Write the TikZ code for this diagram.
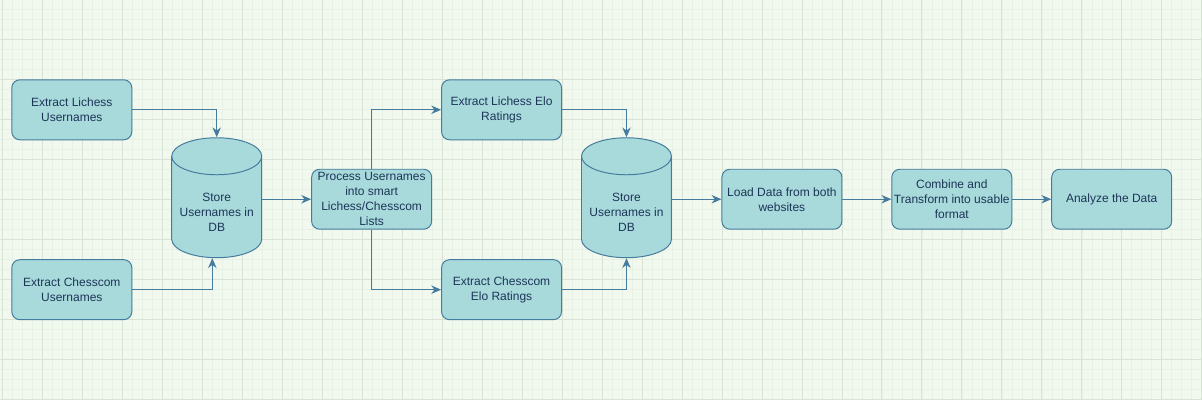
\documentclass[tikz,border=0pt]{standalone}
\usepackage{fontspec}
\setmainfont{Liberation Sans}
\usetikzlibrary{shapes.geometric, arrows.meta}
\definecolor{boxfill}{HTML}{A8DADC}
\definecolor{boxline}{HTML}{457B9D}
\definecolor{boxtext}{HTML}{1D3557}
\definecolor{paper}{HTML}{F1F8EE}
\definecolor{minorgrid}{HTML}{E8F1E5}
\definecolor{majorgrid}{HTML}{D8E3D6}
% cylinder text sits a little below the middle
\newcommand{\dbtext}[1]{\raisebox{0pt}[\dimexpr\height+0.33cm\relax][\depth]{\begin{tabular}{@{}c@{}}#1\end{tabular}}}
\begin{document}
\begin{tikzpicture}[x=0.025cm, y=-0.025cm,
    box/.style={rectangle, rounded corners=0.2cm, draw=boxline, fill=boxfill, line width=0.7pt,
        minimum width=3cm, minimum height=1.5cm, inner sep=0pt, align=center, text=boxtext,
        font=\fontsize{8.54pt}{10.67pt}\selectfont},
    db/.style={cylinder, shape border rotate=90, aspect=0.5, draw=boxline, fill=boxfill, line width=0.7pt,
        minimum width=2.25cm, minimum height=3cm, inner sep=0pt, text=boxtext,
        font=\fontsize{8.54pt}{10.67pt}\selectfont},
    link/.style={draw=boxline, line width=0.7pt, -{Stealth[length=7pt, width=6pt]}}]
    % background with grid
    \fill[paper] (0,0) rectangle (1202,400);
    \foreach \x in {2,12,...,1202} \draw[minorgrid, line width=0.3pt] (\x,0) -- (\x,400);
    \foreach \y in {9,19,...,399} \draw[minorgrid, line width=0.3pt] (0,\y) -- (1202,\y);
    \foreach \x in {2,42,...,1202} \draw[majorgrid, line width=0.5pt] (\x,0) -- (\x,400);
    \foreach \y in {39,79,...,399} \draw[majorgrid, line width=0.5pt] (0,\y) -- (1202,\y);
    \useasboundingbox (0,0) rectangle (1202,400);

    \node[box] (lichessUsers) at (71.5,109.5) {Extract Lichess\\Usernames};
    \node[box] (chesscomUsers) at (71.5,289.5) {Extract Chesscom\\Usernames};
    \node[db] (userDB) at (216.5,207) {\dbtext{Store\\Usernames in\\DB}};
    \node[box] (process) at (371.5,199) {Process Usernames\\into smart\\Lichess/Chesscom\\Lists};
    \node[box] (lichessElo) at (501.5,109.5) {Extract Lichess Elo\\Ratings};
    \node[box] (chesscomElo) at (501.5,289.5) {Extract Chesscom\\Elo Ratings};
    \node[db] (eloDB) at (626.5,207) {\dbtext{Store\\Usernames in\\DB}};
    \node[box] (load) at (782,199) {Load Data from both\\websites};
    \node[box] (combine) at (952,199) {Combine and\\Transform into usable\\format};
    \node[box] (analyze) at (1112,199) {Analyze the Data};

    \draw[link] (lichessUsers.east) -| (userDB.north);
    \draw[link] (chesscomUsers.east) -| ([xshift=-0.11cm]userDB.south);
    \draw[link] (userDB.east |- process.west) -- (process.west);
    \draw[link] (process.north) |- (lichessElo.west);
    \draw[link] (process.south) |- (chesscomElo.west);
    \draw[link] (lichessElo.east) -| (eloDB.north);
    \draw[link] (chesscomElo.east) -| (eloDB.south);
    \draw[link] (eloDB.east |- load.west) -- (load.west);
    \draw[link] (load.east) -- (combine.west);
    \draw[link] (combine.east) -- (analyze.west);
\end{tikzpicture}
\end{document}
